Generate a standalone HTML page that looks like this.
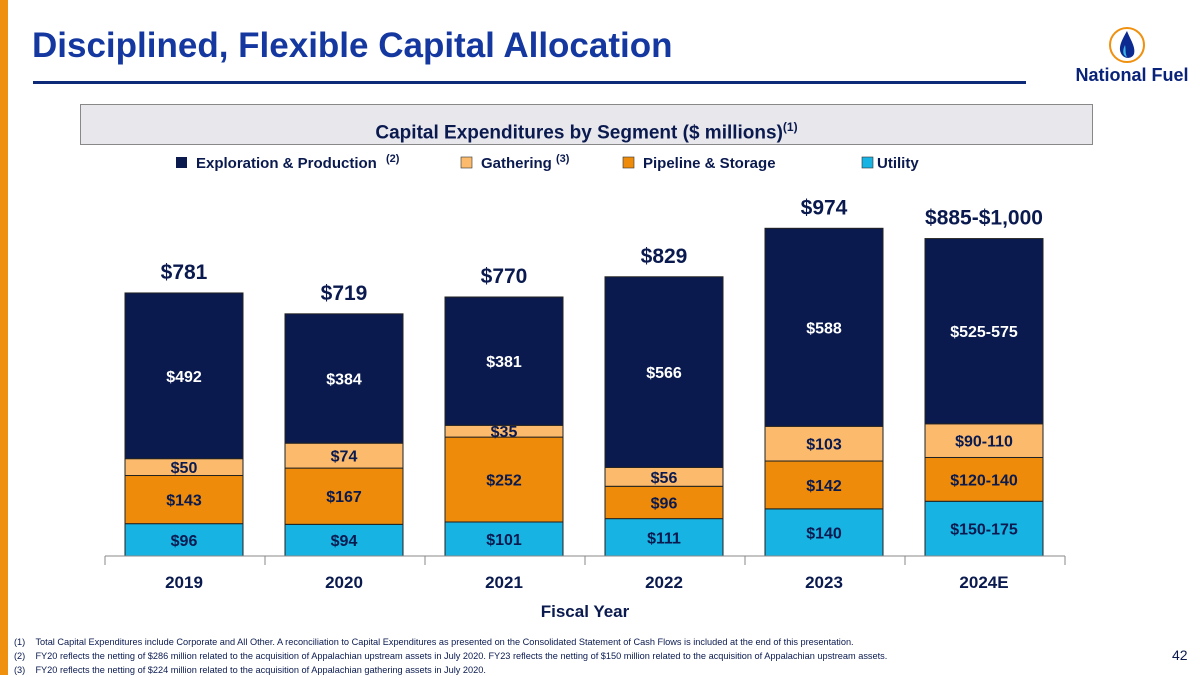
<!DOCTYPE html>
<html><head><meta charset="utf-8"><style>
body{margin:0;width:1200px;height:675px;position:relative;background:#fff;font-family:"Liberation Sans",sans-serif;overflow:hidden}
.a{position:absolute}
</style></head><body>
<div class="a" style="left:0;top:0;width:8px;height:675px;background:#F0900F"></div>
<div class="a" style="left:32px;top:26px;font-size:35px;font-weight:bold;color:#1438A0">Disciplined, Flexible Capital Allocation</div>
<div class="a" style="left:33px;top:81px;width:993px;height:3px;background:#0C2A78"></div>
<div class="a" style="left:1070px;top:25px;width:125px;height:60px">
<svg width="125" height="60"><circle cx="57" cy="20" r="17" fill="#fff" stroke="#F0900F" stroke-width="2"/><path d="M57 6 C50 18 48 24 52 30 C55 34 62 34 64 29 C66 22 60 14 57 6Z" fill="#0C2A8F"/><path d="M55 20 C52 26 53 31 57 32 C55 28 56 24 55 20Z" fill="#3FB4E5"/>
<text x="62" y="56" text-anchor="middle" font-family="Liberation Sans" font-weight="bold" font-size="18" fill="#0A237A">National Fuel</text></svg></div>
<div class="a" style="left:80px;top:104px;width:1011px;height:39px;background:#E7E7EC;border:1px solid #888;text-align:center;line-height:44px;font-size:19px;font-weight:bold;color:#0A1A4F">Capital Expenditures by Segment ($ millions)<sup style="font-size:12px">(1)</sup></div>
<svg class="a" style="left:0;top:0" width="1200" height="675" id="ch">
<g font-family="Liberation Sans" font-weight="bold" font-size="15" fill="#0A1A4F">
<rect x="176" y="157" width="11" height="11" fill="#0A1A4F"/><text x="196" y="168">Exploration &amp; Production</text><text x="386" y="162" font-size="11">(2)</text>
<rect x="461" y="157" width="11" height="11" fill="#FBBA6C" stroke="#333" stroke-width="0.6"/><text x="481" y="168">Gathering</text><text x="556" y="162" font-size="11">(3)</text>
<rect x="623" y="157" width="11" height="11" fill="#EE8B0A" stroke="#333" stroke-width="0.6"/><text x="643" y="168">Pipeline &amp; Storage</text>
<rect x="862" y="157" width="11" height="11" fill="#16B3E3" stroke="#333" stroke-width="0.6"/><text x="877" y="168">Utility</text>
</g>
</svg>
<div class="a" style="left:14px;top:635px;font-size:9.2px;color:#0A1A4F;line-height:14px">
<div>(1)&nbsp;&nbsp;&nbsp;&nbsp;Total Capital Expenditures include Corporate and All Other. A reconciliation to Capital Expenditures as presented on the Consolidated Statement of Cash Flows is included at the end of this presentation.</div>
<div>(2)&nbsp;&nbsp;&nbsp;&nbsp;FY20 reflects the netting of $286 million related to the acquisition of Appalachian upstream assets in July 2020. FY23 reflects the netting of $150 million related to the acquisition of Appalachian upstream assets.</div>
<div>(3)&nbsp;&nbsp;&nbsp;&nbsp;FY20 reflects the netting of $224 million related to the acquisition of Appalachian gathering assets in July 2020.</div></div>
<div class="a" style="left:1172px;top:647px;font-size:14px;color:#0A1A4F">42</div>
<script>
const categories=["2019","2020","2021","2022","2023","2024E"];
const utility=[96,94,101,111,140,162.5];
const pipeline=[143,167,252,96,142,130];
const gathering=[50,74,35,56,103,100];
const exploration=[492,384,381,566,588,550];
const utilityLabels=["$96","$94","$101","$111","$140","$150-175"];
const pipelineLabels=["$143","$167","$252","$96","$142","$120-140"];
const gatheringLabels=["$50","$74","$35","$56","$103","$90-110"];
const explorationLabels=["$492","$384","$381","$566","$588","$525-575"];
const totalLabels=["$781","$719","$770","$829","$974","$885-$1,000"];
const NS="http://www.w3.org/2000/svg",svg=document.getElementById('ch');
const base=556,k=0.3368,x0=105,step=160,bw=118;
const y=v=>base-v*k, xb=i=>x0+step*i+20;
function el(t,a,p){const e=document.createElementNS(NS,t);for(const n in a)e.setAttribute(n,a[n]);(p||svg).appendChild(e);return e;}
const series=[[utility,utilityLabels,"#16B3E3","utility"],[pipeline,pipelineLabels,"#EE8B0A","pipeline"],[gathering,gatheringLabels,"#FBBA6C","gathering"],[exploration,explorationLabels,"#0A1A4F","exploration"]];
categories.forEach((c,i)=>{
  let cum=0;
  series.forEach(s=>{
    const v=s[0][i];
    const r=el('rect',{x:xb(i),y:y(cum+v),width:bw,height:v*k,fill:s[2],stroke:"#222","stroke-width":1});
    
    
    const t=el('text',{x:xb(i)+bw/2,y:y(cum+v/2)+6,"text-anchor":"middle","font-family":"Liberation Sans","font-weight":"bold","font-size":16,fill:s[3]=="exploration"?"#fff":"#0A1A4F"});
    t.textContent=s[1][i];
    
    
    cum+=v;
  });
  const tl=el('text',{x:xb(i)+bw/2,y:y(cum)-14,"text-anchor":"middle","font-family":"Liberation Sans","font-weight":"bold","font-size":21,fill:"#0A1A4F"});
  tl.textContent=totalLabels[i];
  
  
  const cl=el('text',{x:xb(i)+bw/2,y:588,"text-anchor":"middle","font-family":"Liberation Sans","font-weight":"bold","font-size":17,fill:"#0A1A4F"});
  cl.textContent=c;
  
  
});
const ax=el('line',{x1:x0,x2:x0+step*categories.length,y1:base,y2:base,stroke:"#888","stroke-width":1});


for(let i=0;i<=categories.length;i++){
  const tk=el('line',{x1:x0+step*i,x2:x0+step*i,y1:base,y2:base+9,stroke:"#888"});
  
  
}
const xt=el('text',{x:585,y:617,"text-anchor":"middle","font-family":"Liberation Sans","font-weight":"bold","font-size":17,fill:"#0A1A4F"});
xt.textContent="Fiscal Year";


</script>
</body></html>
